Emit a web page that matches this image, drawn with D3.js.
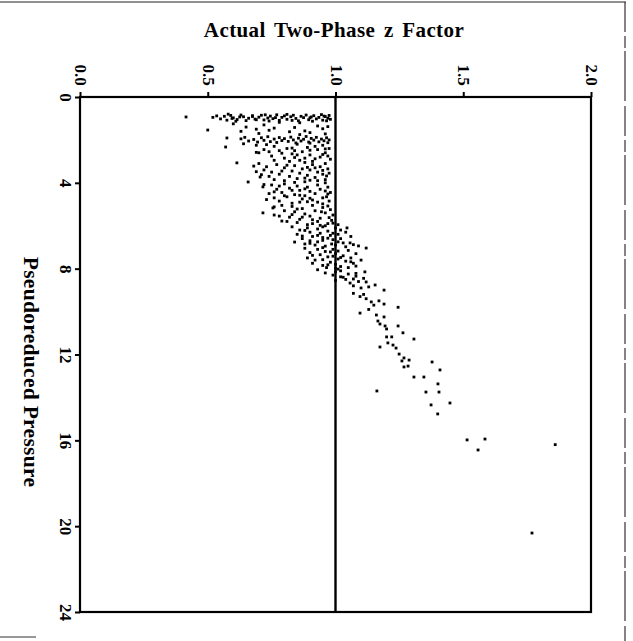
<!DOCTYPE html>
<html>
<head>
<meta charset="utf-8">
<script src="https://cdn.jsdelivr.net/npm/d3@7"></script>
<style>
  html, body { margin: 0; padding: 0; background: #fff; }
  svg { display: block; }
  text { font-family: "Liberation Serif", "DejaVu Serif", serif; font-weight: bold; fill: #000; }
</style>
</head>
<body>
<svg id="chart" width="633" height="641"></svg>
<script>
// ---- data ----
const titleText = "Actual Two-Phase z Factor";
const pressureLabel = "Pseudoreduced Pressure";
const zTicks = [0, 0.5, 1.0, 1.5, 2.0];
const zTickLabels = ["0.0", "0.5", "1.0", "1.5", "2.0"];
const pTicks = [0, 4, 8, 12, 16, 20, 24];
const pTickLabels = ["0", "4", "8", "12", "16", "20", "24"];
const referenceZ = 1.0;

// observations: [pseudoreduced pressure, actual two-phase z factor]
const bandLow = [
  [0.93,0.415],
  [0.95,0.52],[0.88,0.535],[1.02,0.55],[0.90,0.565],[1.08,0.575],[0.86,0.59],[0.97,0.60],[1.05,0.615],
  [0.84,0.63],[0.92,0.64],[1.10,0.65],[0.99,0.66],[0.87,0.675],[1.03,0.685],[0.94,0.70],[0.85,0.71],
  [1.07,0.72],[0.98,0.735],[0.89,0.745],[1.01,0.755],[0.83,0.77],[1.09,0.78],[0.95,0.79],[0.88,0.80],
  [1.04,0.81],[0.92,0.825],[0.85,0.835],[1.00,0.845],[1.11,0.855],[0.90,0.865],[0.96,0.875],[0.84,0.885],
  [1.06,0.895],[0.93,0.905],[0.87,0.915],[1.02,0.925],[0.95,0.935],[0.82,0.945],[1.08,0.95],[0.91,0.96],
  [0.99,0.97],[0.86,0.975],[1.04,0.98],
  [1.25,0.60],[1.30,0.72],[1.20,0.86],[1.35,0.93],[1.18,0.78],
  [1.54,0.50],[1.50,0.69],[1.45,0.76],[1.62,0.82],[1.58,0.88],[1.48,0.95],[1.66,0.90],[1.55,0.74],
  [1.91,0.575],[1.95,0.63],[1.88,0.645],[2.05,0.66],[1.98,0.68],[2.10,0.695],[1.90,0.71],[2.02,0.72],
  [1.85,0.735],[2.08,0.745],[1.96,0.76],[2.12,0.77],[1.89,0.78],[2.03,0.79],[1.94,0.80],[2.07,0.815],
  [1.87,0.825],[2.00,0.835],[2.14,0.845],[1.92,0.855],[2.05,0.865],[1.97,0.875],[1.84,0.885],[2.10,0.895],
  [1.93,0.905],[2.01,0.915],[1.88,0.925],[2.09,0.935],[1.96,0.945],[2.04,0.955],[1.90,0.965],[2.00,0.975],
  [2.13,0.97],
  [2.33,0.57],[2.25,0.69],[2.45,0.72],[2.60,0.70],[2.30,0.76],[2.50,0.78],[2.75,0.75],[2.40,0.81],
  [2.65,0.83],[2.20,0.85],[2.85,0.80],[2.55,0.87],[2.35,0.89],[2.70,0.90],[2.95,0.86],[2.45,0.93],
  [2.25,0.95],[2.80,0.94],[2.60,0.96],[2.90,0.98],[2.40,0.975],[3.00,0.91],[2.55,0.74],[2.85,0.88],
  [2.30,0.92],[2.70,0.85],[2.95,0.76],[2.50,0.84],[2.15,0.90],[2.75,0.97]
];
const bandMid = [
  [3.07,0.614],[3.73,0.705],[3.96,0.658],[3.10,0.70],[3.25,0.73],[3.40,0.72],[3.15,0.77],[3.50,0.75],
  [3.30,0.80],[3.60,0.78],[3.85,0.76],[3.20,0.84],[3.45,0.83],[3.70,0.82],[3.90,0.80],[3.05,0.88],
  [3.35,0.87],[3.55,0.86],[3.80,0.85],[3.15,0.91],[3.40,0.90],[3.65,0.89],[3.95,0.88],[3.25,0.94],
  [3.50,0.93],[3.75,0.92],[3.10,0.96],[3.35,0.97],[3.60,0.95],[3.85,0.96],[3.45,0.79],[3.00,0.82],
  [3.70,0.74],[3.30,0.92],[3.90,0.93],[3.55,0.975],
  [4.19,0.716],[4.10,0.75],[4.30,0.77],[4.50,0.74],[4.70,0.76],[4.05,0.80],[4.25,0.82],[4.45,0.79],
  [4.65,0.81],[4.85,0.78],[4.15,0.85],[4.35,0.86],[4.55,0.84],[4.75,0.87],[4.95,0.83],[4.20,0.89],
  [4.40,0.90],[4.60,0.88],[4.80,0.91],[4.10,0.93],[4.30,0.94],[4.50,0.92],[4.70,0.95],[4.90,0.93],
  [4.20,0.97],[4.45,0.98],[4.65,0.965],[4.85,0.975],[4.00,0.96],[4.60,0.80],[4.90,0.86],[4.35,0.83],
  [5.40,0.716],[5.17,0.755],[5.05,0.79],[5.30,0.80],[5.55,0.78],[5.80,0.81],[5.10,0.83],[5.35,0.84],
  [5.60,0.82],[5.85,0.85],[5.20,0.87],[5.45,0.88],[5.70,0.86],[5.95,0.89],[5.05,0.91],[5.30,0.92],
  [5.55,0.90],[5.80,0.93],[5.15,0.95],[5.40,0.96],[5.65,0.94],[5.90,0.97],[5.25,0.98],[5.50,0.99],
  [5.75,0.985],[6.00,0.96],[5.60,0.87],[5.90,0.91]
];
const bandHigh = [
  [6.76,0.84],[6.05,0.83],[6.20,0.86],[6.40,0.85],[6.60,0.87],[6.85,0.88],[6.10,0.89],[6.30,0.90],
  [6.50,0.91],[6.70,0.90],[6.90,0.92],[6.15,0.93],[6.35,0.94],[6.55,0.95],[6.75,0.93],[6.95,0.96],
  [6.25,0.97],[6.45,0.98],[6.65,0.99],[6.85,0.985],[6.10,1.00],[6.40,1.01],[6.60,1.02],[6.80,1.03],
  [6.30,1.04],[6.94,1.09],[7.04,1.12],[6.50,1.06],[6.90,1.00],[6.10,1.045],[6.80,1.057],
  [7.05,0.88],[7.25,0.90],[7.50,0.89],[7.75,0.91],[7.10,0.93],[7.35,0.94],[7.60,0.92],[7.85,0.95],
  [7.20,0.96],[7.45,0.97],[7.70,0.98],[7.95,0.965],[7.10,0.99],[7.30,1.00],[7.55,1.01],[7.80,1.00],
  [7.40,1.03],[7.65,1.04],[7.90,1.02],[7.15,1.05],[7.50,1.06],[7.75,1.07],[7.30,1.08],[7.95,1.05],
  [7.60,1.10],
  [8.05,0.93],[8.20,0.96],[8.15,1.00],[8.30,0.99],[8.10,1.02],[8.40,1.03],[8.25,1.05],[8.50,1.04],
  [8.67,1.057],[8.35,1.08],[8.60,1.09],[8.80,1.07],[8.45,1.11],[8.76,1.155],[8.90,1.10],[8.15,1.115],
  [9.00,1.19],[8.55,1.00],
  [9.30,1.096],[9.40,1.12],[9.55,1.14],[9.20,1.11],[9.80,1.245],[9.70,1.15],[9.90,1.13],[9.50,1.17],
  [9.65,1.19],[9.15,1.07],[10.07,1.096],[10.16,1.16],[10.25,1.19],
  [10.44,1.166],[10.58,1.174],[10.67,1.194],[10.67,1.245],[10.81,1.20],[10.99,1.264],[11.18,1.20],
  [11.18,1.22],[11.28,1.307],[11.65,1.174],[11.46,1.205],[11.56,1.225],[11.70,1.237],[11.98,1.249],
  [12.30,1.26],[12.16,1.268],[12.26,1.288],[12.58,1.268],[12.54,1.284],[12.35,1.378],
  [13.05,1.307],[13.05,1.346],[12.72,1.409],[13.37,1.401],[13.70,1.162],[13.75,1.354],[13.75,1.405],
  [14.35,1.374],[14.26,1.448],[14.77,1.40],
  [15.98,1.515],[15.94,1.585],[16.45,1.558],[16.20,1.86],[20.32,1.769]
];
const bandExtra = [
  [0.80,0.58],[1.13,0.61],[0.91,0.675],[1.06,0.69],[0.83,0.725],[1.12,0.74],[0.96,0.765],[0.81,0.81],
  [1.09,0.83],[0.97,0.90],[1.13,0.91],[0.89,0.955],[1.11,0.965],[0.93,0.625],[1.00,0.595],
  [1.40,0.65],[1.70,0.70],[1.42,0.84],[1.75,0.86],[1.38,0.97],[1.72,0.96],[1.60,0.63],
  [2.18,0.64],[2.22,0.73],[2.38,0.83],[2.62,0.79],[2.48,0.90],[2.88,0.92],[2.68,0.95],[2.58,0.69],
  [2.82,0.84],[2.42,0.96],
  [3.22,0.68],[3.48,0.69],[3.62,0.71],[3.18,0.81],[3.78,0.88],[3.42,0.95],[3.98,0.84],[3.28,0.89],
  [3.68,0.965],[3.88,0.90],
  [4.08,0.72],[4.42,0.76],[4.78,0.73],[4.28,0.88],[4.58,0.86],[4.88,0.89],[4.38,0.96],[4.72,0.90],
  [4.98,0.95],[4.52,0.97],[4.15,0.78],
  [5.12,0.76],[5.50,0.76],[5.78,0.79],[5.22,0.85],[5.48,0.83],[5.72,0.91],[5.98,0.94],[5.35,0.945],
  [5.62,0.975],[5.88,0.99],[5.08,0.97],[5.95,1.01],
  [6.05,0.95],[6.22,0.88],[6.48,0.87],[6.68,0.95],[6.82,0.90],[6.35,0.99],[6.58,0.97],[6.75,1.01],
  [6.98,1.04],[6.20,1.02],[6.88,1.07],[6.45,0.93],
  [7.02,0.95],[7.22,0.98],[7.38,0.91],[7.58,0.95],[7.82,0.97],[7.48,1.02],[7.68,1.06],[7.88,1.08],
  [7.18,1.01],[7.98,1.00],[7.42,0.99],
  [8.02,1.01],[8.22,1.08],[8.48,1.07],[8.62,1.12],[8.38,1.02],[8.85,1.13]
];

// ---- layout ----
const svg = d3.select("#chart");
const plot = { left: 80, right: 591, top: 97, bottom: 612 };

const x = d3.scaleLinear().domain([0, 2]).range([plot.left, plot.right]);
const y = d3.scaleLinear().domain([0, 24]).range([plot.top, plot.bottom]);

// scan page frame (partial)
svg.append("line").attr("x1", 0).attr("x2", 626).attr("y1", 2).attr("y2", 2)
  .attr("stroke", "#222").attr("stroke-width", 1.2);
svg.append("line").attr("x1", 625).attr("x2", 625).attr("y1", 2).attr("y2", 641)
  .attr("stroke", "#333").attr("stroke-width", 1.2).attr("stroke-dasharray", "30,4,12,3,50,5");
svg.append("line").attr("x1", 0).attr("x2", 36).attr("y1", 637).attr("y2", 637)
  .attr("stroke", "#333").attr("stroke-width", 1.2);

// title
svg.append("text").attr("x", 334).attr("y", 37)
  .attr("text-anchor", "middle").attr("font-size", 21)
  .attr("letter-spacing", 0.4).attr("word-spacing", 3).text(titleText);

// y axis title (rotated)
svg.append("text").attr("transform", "translate(31,372) rotate(90)")
  .attr("text-anchor", "middle").attr("dominant-baseline", "central")
  .attr("font-size", 21.5).attr("letter-spacing", 0.3).text(pressureLabel);

// axes
const xAxis = d3.axisTop(x).tickValues(zTicks).tickSize(5).tickFormat((d, i) => zTickLabels[i]);
const yAxis = d3.axisLeft(y).tickValues(pTicks).tickSize(5).tickFormat((d, i) => pTickLabels[i]);

const gx = svg.append("g").attr("transform", `translate(0,${plot.top})`).call(xAxis);
gx.select(".domain").remove();
gx.selectAll(".tick line").attr("stroke", "#000").attr("stroke-width", 2);
gx.selectAll(".tick text")
  .attr("y", null).attr("dy", null)
  .attr("transform", "translate(0,-22) rotate(90)")
  .attr("text-anchor", "middle").attr("dominant-baseline", "central")
  .attr("font-size", 17).attr("font-family", "Liberation Serif, serif").attr("font-weight", "bold");

const gy = svg.append("g").attr("transform", `translate(${plot.left},0)`).call(yAxis);
gy.select(".domain").remove();
gy.selectAll(".tick line").attr("stroke", "#000").attr("stroke-width", 2);
gy.selectAll(".tick text")
  .attr("x", null).attr("dy", null)
  .attr("transform", "translate(-15,0) rotate(90)")
  .attr("text-anchor", "middle").attr("dominant-baseline", "central")
  .attr("font-size", 17).attr("font-family", "Liberation Serif, serif").attr("font-weight", "bold");

// plot frame
svg.append("rect")
  .attr("x", plot.left).attr("y", plot.top)
  .attr("width", plot.right - plot.left).attr("height", plot.bottom - plot.top)
  .attr("fill", "none").attr("stroke", "#000").attr("stroke-width", 2.2);

// reference line at z = 1.0
svg.append("line")
  .attr("x1", x(referenceZ)).attr("x2", x(referenceZ))
  .attr("y1", y(0)).attr("y2", y(24))
  .attr("stroke", "#000").attr("stroke-width", 2.4);

// points
const allObs = bandLow.concat(bandMid, bandHigh, bandExtra);
svg.append("g").selectAll("rect.pt").data(allObs).join("rect")
  .attr("class", "pt")
  .attr("x", d => x(d[1]) - 1.4)
  .attr("y", d => y(d[0]) - 1.4)
  .attr("width", 2.8).attr("height", 2.8)
  .attr("fill", "#000");
</script>
</body>
</html>
